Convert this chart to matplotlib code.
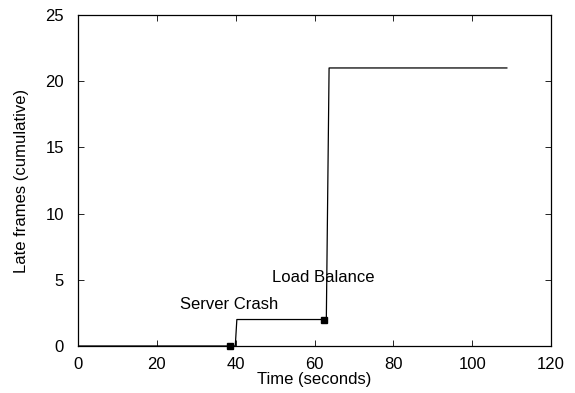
import matplotlib
matplotlib.use('Agg')
from matplotlib import pyplot as plt

# cumulative late frames (step curve)
tiempos = [0, 39.9, 40.3, 63.0, 63.7, 108.8]
tardios = [0, 0, 2, 2, 21, 21]

# event markers
eventos_x = [38.6, 62.5]
eventos_y = [0, 2]
eventos_txt = ['Server Crash', 'Load Balance']
eventos_pos = [(25.8, 3.1), (49.1, 5.15)]

plt.rcParams['font.family'] = ['Liberation Sans', 'DejaVu Sans']

fig = plt.figure(figsize=(5.75, 3.93), dpi=100)
ax = fig.add_axes([78 / 575, 47 / 393, 473 / 575, 331 / 393])

ax.plot(tiempos, tardios, color='black', linewidth=0.9)
ax.plot(eventos_x, eventos_y, linestyle='none', marker='s', markersize=4,
        color='black', clip_on=False)
for txt, (tx, ty) in zip(eventos_txt, eventos_pos):
    ax.text(tx, ty, txt, fontsize=12, ha='left', va='center')

ax.set_xlim(0, 120)
ax.set_ylim(0, 25)
ax.set_xticks(range(0, 121, 20))
ax.set_yticks(range(0, 26, 5))
ax.tick_params(direction='in', top=True, right=True, length=4, width=0.6,
               labelsize=12)
ax.tick_params(axis='x', pad=8)
ax.tick_params(axis='y', pad=10)
for s in ax.spines.values():
    s.set_linewidth(0.9)

ax.set_xlabel('Time (seconds)', fontsize=12, labelpad=0)
ax.set_ylabel('Late frames (cumulative)', fontsize=12, labelpad=12)

fig.savefig('out.png', dpi=100)
